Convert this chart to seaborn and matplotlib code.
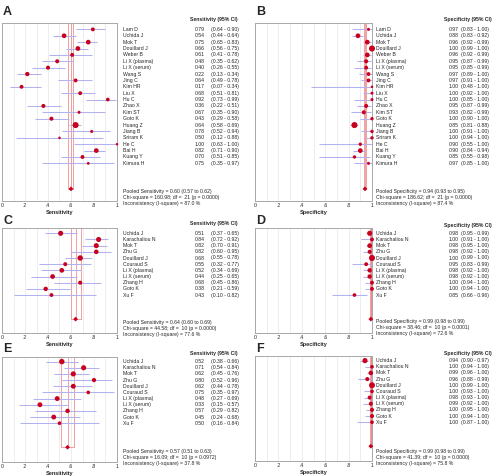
# forest plots: sensitivity / specificity, 6 panels

import numpy as np
import pandas as pd
import matplotlib
matplotlib.use('Agg')
import matplotlib.pyplot as plt
import matplotlib.transforms as mtransforms
import seaborn as sns

W, H = 501, 476

studies_all = ['Lam D', 'Uchida J', 'Mok T', 'Douillard J', 'Weber B', 'Li X (plasma)',
               'Li X (serum)', 'Wang S', 'Jing C', 'Kim HR', 'Liu X', 'Hu C', 'Zhao X',
               'Kim ST', 'Goto K', 'Huang Z', 'Jiang B', 'Sriram K', 'He C', 'Bai H',
               'Kuang Y', 'Kimura H']
studies_sub = ['Uchida J', 'Karachaliou N', 'Mok T', 'Zhu G', 'Douillard J', 'Couraud S',
               'Li X (plasma)', 'Li X (serum)', 'Zhang H', 'Goto K', 'Xu F']

# A - sensitivity, all studies
sens_a = [0.79, 0.54, 0.75, 0.66, 0.61, 0.48, 0.40, 0.22, 0.64, 0.17, 0.68,
          0.92, 0.36, 0.67, 0.43, 0.64, 0.78, 0.50, 1.00, 0.82, 0.70, 0.75]
sens_a_lo = [0.64, 0.44, 0.65, 0.56, 0.41, 0.35, 0.26, 0.13, 0.49, 0.07, 0.51,
             0.73, 0.22, 0.35, 0.29, 0.58, 0.52, 0.12, 0.63, 0.71, 0.51, 0.35]
sens_a_hi = [0.90, 0.64, 0.83, 0.75, 0.78, 0.62, 0.55, 0.34, 0.78, 0.34, 0.81,
             0.99, 0.51, 0.90, 0.58, 0.69, 0.94, 0.88, 1.00, 0.90, 0.85, 0.97]
wt_a = [3, 4, 4, 4, 3, 3.2, 3.2, 3.5, 3, 3, 3, 2.8, 3.2, 2.2, 3.2, 6, 2.2, 1.8, 1.8, 4, 3, 2]
pooled_a = [0.60, 0.57, 0.62]
stats_a = ['Pooled Sensitivity = 0.60 (0.57 to 0.62)',
           'Chi-square = 160.98; df =  21 (p = 0.0000)',
           'Inconsistency (I-square) = 87.0 %']

# B - specificity, all studies
spec_b = [0.97, 0.88, 0.96, 1.00, 0.96, 0.95, 0.95, 0.97, 0.97, 1.00, 1.00,
          1.00, 0.95, 0.93, 1.00, 0.85, 1.00, 1.00, 0.90, 0.90, 0.85, 0.97]
spec_b_lo = [0.83, 0.83, 0.92, 0.99, 0.92, 0.87, 0.85, 0.89, 0.91, 0.48, 0.92,
             0.85, 0.87, 0.82, 0.90, 0.81, 0.91, 0.94, 0.55, 0.84, 0.55, 0.85]
spec_b_hi = [1.00, 0.92, 0.99, 1.00, 0.99, 0.99, 0.99, 1.00, 1.00, 1.00, 1.00,
             1.00, 0.99, 0.99, 1.00, 0.88, 1.00, 1.00, 1.00, 0.94, 0.98, 1.00]
wt_b = [2.2, 4, 4, 6, 4, 3.2, 3, 3, 3, 1.8, 2.2, 2.2, 3.2, 3.2, 2.5, 6, 2.5, 2.5, 2.5, 4, 2.5, 2.2]
pooled_b = [0.94, 0.93, 0.95]
stats_b = ['Pooled Specificity = 0.94 (0.93 to 0.95)',
           'Chi-square = 186.62; df =  21 (p = 0.0000)',
           'Inconsistency (I-square) = 87.4 %']

# C - sensitivity, subgroup
sens_c = [0.51, 0.84, 0.82, 0.82, 0.68, 0.55, 0.52, 0.44, 0.68, 0.38, 0.43]
sens_c_lo = [0.37, 0.72, 0.70, 0.60, 0.55, 0.32, 0.34, 0.25, 0.45, 0.21, 0.10]
sens_c_hi = [0.65, 0.92, 0.91, 0.95, 0.78, 0.77, 0.69, 0.65, 0.86, 0.59, 0.82]
wt_c = [4.5, 4.5, 4.5, 3.8, 5, 3.2, 4, 4, 3.2, 3.6, 3]
pooled_c = [0.64, 0.60, 0.69]
stats_c = ['Pooled Sensitivity = 0.64 (0.60 to 0.69)',
           'Chi-square = 44.58; df =  10 (p = 0.0000)',
           'Inconsistency (I-square) = 77.6 %']

# D - specificity, subgroup
spec_d = [0.98, 1.00, 0.98, 0.98, 1.00, 0.95, 0.98, 0.98, 1.00, 1.00, 0.85]
spec_d_lo = [0.95, 0.91, 0.95, 0.92, 0.99, 0.83, 0.92, 0.92, 0.94, 0.94, 0.66]
spec_d_hi = [0.99, 1.00, 1.00, 1.00, 1.00, 0.99, 1.00, 1.00, 1.00, 1.00, 0.96]
wt_d = [4.5, 3, 4, 3.2, 6, 3, 3.6, 3.6, 3, 3, 2.8]
pooled_d = [0.99, 0.98, 0.99]
stats_d = ['Pooled Specificity = 0.99 (0.98 to 0.99)',
           'Chi-square = 38.46; df =  10 (p = 0.0001)',
           'Inconsistency (I-square) = 72.6 %']

# E - sensitivity, subgroup 2
sens_e = [0.52, 0.71, 0.62, 0.80, 0.62, 0.75, 0.48, 0.33, 0.57, 0.45, 0.50]
sens_e_lo = [0.38, 0.54, 0.45, 0.52, 0.44, 0.35, 0.27, 0.15, 0.29, 0.24, 0.16]
sens_e_hi = [0.66, 0.84, 0.76, 0.96, 0.78, 0.97, 0.69, 0.57, 0.82, 0.68, 0.84]
wt_e = [5, 4.6, 4.6, 3.4, 4.2, 2.8, 4.2, 4.2, 3.6, 4.2, 2.8]
pooled_e = [0.57, 0.51, 0.63]
stats_e = ['Pooled Sensitivity = 0.57 (0.51 to 0.63)',
           'Chi-square = 16.09; df =  10 (p = 0.0972)',
           'Inconsistency (I-square) = 37.8 %']

# F - specificity, subgroup 2
spec_f = [0.94, 1.00, 0.99, 0.96, 1.00, 1.00, 0.98, 0.99, 1.00, 1.00, 1.00]
spec_f_lo = [0.90, 0.94, 0.96, 0.88, 0.99, 0.93, 0.93, 0.92, 0.95, 0.94, 0.87]
spec_f_hi = [0.97, 1.00, 1.00, 0.99, 1.00, 1.00, 1.00, 1.00, 1.00, 1.00, 1.00]
wt_f = [4.6, 2.8, 3.8, 3.2, 5.8, 2.8, 3.2, 3.2, 3.2, 3.2, 2.8]
pooled_f = [0.99, 0.98, 0.99]
stats_f = ['Pooled Specificity = 0.99 (0.98 to 0.99)',
           'Chi-square = 41.39; df =  10 (p = 0.0000)',
           'Inconsistency (I-square) = 75.8 %']

sns.set_style('white')
plt.rcParams['font.family'] = ['Liberation Sans', 'DejaVu Sans']

RED = '#c8001e'
CI_COL = '#b2b2ee'
BOX_COL = '#f2a0a0'
FS = 3.7


def px_box(l, t, r, b):
    return [l / W, 1 - b / H, (r - l) / W, (b - t) / H]


panels = [
    dict(letter='A', kind='Sensitivity', names=studies_all, est=sens_a, lo=sens_a_lo, hi=sens_a_hi,
         wt=wt_a, pooled=pooled_a, stats=stats_a, box=(2, 23, 117, 201), ylim=(26.9, -1.0),
         prow=25, x0=0, stats_y=[191.7, 197.7, 203.7], head_y=20, let_y=12),
    dict(letter='B', kind='Specificity', names=studies_all, est=spec_b, lo=spec_b_lo, hi=spec_b_hi,
         wt=wt_b, pooled=pooled_b, stats=stats_b, box=(255, 23, 372, 201), ylim=(26.9, -1.0),
         prow=25, x0=253, stats_y=[191.7, 197.7, 203.7], head_y=20, let_y=12),
    dict(letter='C', kind='Sensitivity', names=studies_sub, est=sens_c, lo=sens_c_lo, hi=sens_c_hi,
         wt=wt_c, pooled=pooled_c, stats=stats_c, box=(2, 228, 117, 333), ylim=(16.15, -0.86),
         prow=13.9, x0=0, stats_y=[322.3, 328.3, 334.3], head_y=223.5, let_y=221.5),
    dict(letter='D', kind='Specificity', names=studies_sub, est=spec_d, lo=spec_d_lo, hi=spec_d_hi,
         wt=wt_d, pooled=pooled_d, stats=stats_d, box=(255, 228, 372, 333), ylim=(16.15, -0.86),
         prow=13.9, x0=253, stats_y=[321.8, 327.8, 333.8], head_y=225, let_y=221.5),
    dict(letter='E', kind='Sensitivity', names=studies_sub, est=sens_e, lo=sens_e_lo, hi=sens_e_hi,
         wt=wt_e, pooled=pooled_e, stats=stats_e, box=(2, 357, 117, 462), ylim=(16.3, -0.75),
         prow=13.9, x0=0, stats_y=[451, 457, 463], head_y=353.3, let_y=349),
    dict(letter='F', kind='Specificity', names=studies_sub, est=spec_f, lo=spec_f_lo, hi=spec_f_hi,
         wt=wt_f, pooled=pooled_f, stats=stats_f, box=(255, 356, 372, 461), ylim=(16.3, -0.75),
         prow=13.9, x0=253, stats_y=[451.7, 457.5, 463.5], head_y=353, let_y=349),
]

fig = plt.figure(figsize=(W / 100, H / 100), dpi=100)

for p in panels:
    ax = fig.add_axes(px_box(*p['box']))
    n = len(p['names'])
    rows = np.arange(n)
    df = pd.DataFrame({'est': p['est'], 'row': rows, 'wt': p['wt']})
    ybot, ytop = p['ylim']

    # light vertical grid
    for g in np.arange(0.1, 1.0, 0.1):
        ax.axvline(g, color='#e6e6e6', lw=0.5, zorder=0)

    # pooled estimate box and centre line
    pe, plo, phi = p['pooled']
    prow = p['prow']
    ax.plot([plo, plo, phi, phi], [ytop, prow, prow, ytop], color=BOX_COL, lw=0.7, zorder=1)
    ax.plot([pe, pe], [ytop, prow], color='#e88080', lw=0.5, zorder=1)

    # confidence intervals
    ax.hlines(rows, p['lo'], p['hi'], color=CI_COL, lw=0.75, zorder=2)

    sns.scatterplot(data=df, x='est', y='row', size='wt', sizes=(2.2, 19), size_norm=(1.5, 6),
                    color=RED, edgecolor='none', legend=False, ax=ax, zorder=3, clip_on=False)
    ax.scatter([pe], [prow], marker='D', s=6, color=RED, edgecolor='none', zorder=4, clip_on=False)

    # limits set after plotting so nothing autoscales them
    ax.set_xlim(0, 1)
    ax.set_ylim(ybot, ytop)
    ax.autoscale(False)

    ax.set_xticks([0, 0.2, 0.4, 0.6, 0.8, 1])
    ax.set_xticklabels(['0', '.2', '.4', '.6', '.8', '1'])
    ax.set_yticks([])
    ax.tick_params(axis='x', length=0, labelsize=FS, pad=1.2)
    ax.set_xlabel(p['kind'], fontsize=FS + 0.3, fontweight='bold', labelpad=1.5)
    ax.set_ylabel('')
    for s in ax.spines.values():
        s.set_color('#a8a8a8')
        s.set_linewidth(0.7)

    # study names and values
    x0 = p['x0']
    trans = mtransforms.blended_transform_factory(fig.transFigure, ax.transData)
    val_x = 195 if x0 == 0 else 449
    ci_x = 211 if x0 == 0 else 461
    for i, name in enumerate(p['names']):
        ax.text((x0 + 123) / W, i, name, transform=trans, va='center', ha='left', fontsize=FS)
        ax.text(val_x / W, i, '%.2f' % p['est'][i], transform=trans, va='center', ha='left',
                fontsize=FS)
        ax.text(ci_x / W, i, '(%.2f - %.2f)' % (p['lo'][i], p['hi'][i]), transform=trans,
                va='center', ha='left', fontsize=FS)

    head_x = 190 if x0 == 0 else 444
    fig.text(head_x / W, 1 - p['head_y'] / H, p['kind'] + ' (95% CI)', ha='left', va='center',
             fontsize=FS, fontweight='bold')
    fig.text((x0 + 3) / W, 1 - p['let_y'] / H, p['letter'], ha='left', va='center',
             fontsize=9, fontweight='bold')
    for line, sy in zip(p['stats'], p['stats_y']):
        fig.text((x0 + 123) / W, 1 - sy / H, line, ha='left', va='center', fontsize=FS)

fig.savefig('out.png', dpi=100)
